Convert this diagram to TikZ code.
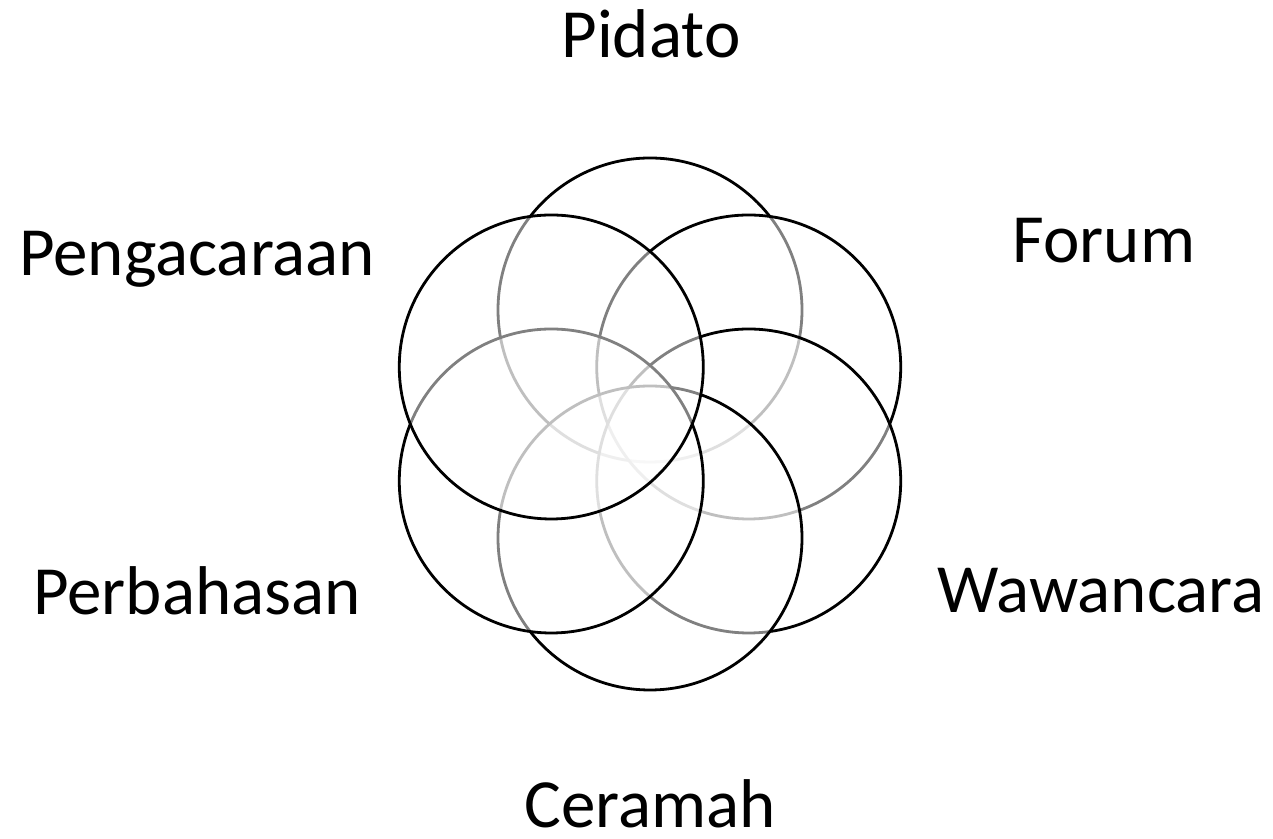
\documentclass[tikz,border=0pt]{standalone}
\usepackage{fontspec}
\setmainfont{Carlito}
\usetikzlibrary{positioning,calc}

\begin{document}
\begin{tikzpicture}[
  x=0.5pt, y=0.5pt,
  petal/.style={circle, draw=black, line width=1.4pt, fill=white, fill opacity=0.5,
    minimum size=152pt, inner sep=0pt},
  label/.style={anchor=base, inner sep=0pt, font=\fontsize{34.5}{41}\selectfont}
]
\useasboundingbox (0,0) rectangle (1273,839);
\coordinate (centre) at (650,415);

% petals, drawn in order so later ones dim the earlier outlines
\node[petal] (pidato) at ($(centre)+(90:114)$) {};
\node[petal] (forum) at ($(centre)+(30:114)$) {};
\node[petal] (wawancara) at ($(centre)+(-30:114)$) {};
\node[petal] (ceramah) at ($(centre)+(-90:114)$) {};
\node[petal] (perbahasan) at ($(centre)+(210:114)$) {};
\node[petal] (pengacaraan) at ($(centre)+(150:114)$) {};

\node[label] (lpidato) at (651,781) {Pidato};
\node[label] (lforum) at (1104,576) {Forum};
\node[label] (lwawancara) at (1101,226) {Wawancara};
\node[label] (lceramah) at (650,11) {Ceramah};
\node[label] (lperbahasan) at (197,224) {Perbahasan};
\node[label] (lpengacaraan) at (197,563) {Pengacaraan};
\end{tikzpicture}
\end{document}
